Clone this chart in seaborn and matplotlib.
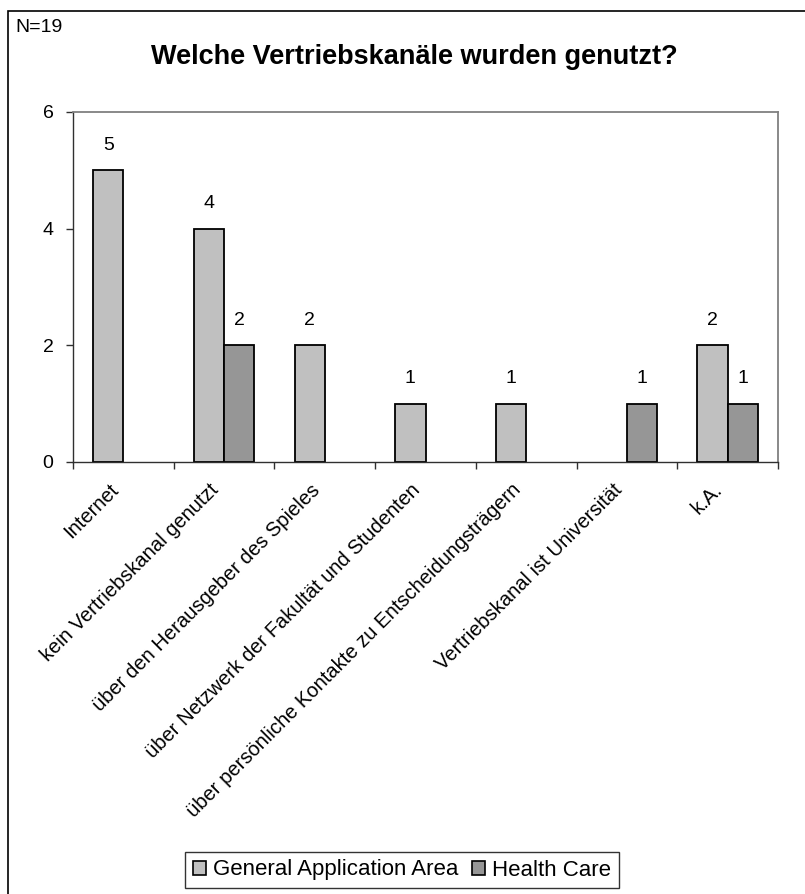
import matplotlib
matplotlib.use("Agg")
import matplotlib.pyplot as plt
from matplotlib.patches import Rectangle, Patch
from matplotlib.ticker import FixedLocator
from matplotlib.transforms import ScaledTranslation
import pandas as pd
import seaborn as sns

# Data
kanaele = [
    "Internet",
    "kein Vertriebskanal genutzt",
    "über den Herausgeber des Spieles",
    "über Netzwerk der Fakultät und Studenten",
    "über persönliche Kontakte zu Entscheidungsträgern",
    "Vertriebskanal ist Universität",
    "k.A.",
]
general_application_area = [5, 4, 2, 1, 1, 0, 2]
health_care = [0, 2, 0, 0, 0, 1, 1]
bereiche = ["General Application Area", "Health Care"]
farben = ["#C0C0C0", "#969696"]
y_ticks = [0, 2, 4, 6]

df = pd.DataFrame({
    "Kanal": kanaele * 2,
    "Bereich": [bereiche[0]] * len(kanaele) + [bereiche[1]] * len(kanaele),
    "Anzahl": general_application_area + health_care,
})

sns.set_theme(style="white")
plt.rcParams["font.family"] = ["Liberation Sans", "DejaVu Sans"]
plt.rcParams["text.color"] = "black"
plt.rcParams["xtick.color"] = "black"
plt.rcParams["ytick.color"] = "black"

W, H = 805, 894
fig = plt.figure(figsize=(W / 100, H / 100), dpi=100)
fig.patch.set_facecolor("white")

# Plot area in pixel coordinates
left, right, top, bottom = 73, 778, 112, 462
ax = fig.add_axes([left / W, 1 - bottom / H, (right - left) / W, (bottom - top) / H])

sns.barplot(
    data=df, x="Kanal", y="Anzahl", hue="Bereich",
    order=kanaele, hue_order=bereiche,
    palette=farben,
    width=0.6, gap=0, edgecolor="black", linewidth=1.3,
    saturation=1, ax=ax, legend=False,
)

# Hide empty bars
for p in ax.patches:
    if p.get_height() == 0:
        p.set_visible(False)

# Value labels above bars
for cont in ax.containers:
    labels = [f"{v:g}" if v > 0 else "" for v in cont.datavalues]
    ax.bar_label(cont, labels=labels, padding=12, fontsize=14, color="black")

ax.set_ylim(0, 6)
ax.set_yticks(y_ticks)
ax.set_xlim(-0.5, len(kanaele) - 0.5)
ax.set_xlabel("")
ax.set_ylabel("")

# Axes frame
for side in ["top", "right"]:
    ax.spines[side].set_color("#808080")
    ax.spines[side].set_linewidth(1.3)
for side in ["left", "bottom"]:
    ax.spines[side].set_color("#303030")
    ax.spines[side].set_linewidth(1.0)

ax.tick_params(axis="y", which="major", direction="out", length=5, width=1,
               color="#303030", pad=9, labelsize=14, left=True, labelcolor="black")
ax.tick_params(axis="x", which="major", length=0, pad=18, labelsize=14.5,
               labelcolor="black")
ax.xaxis.set_minor_locator(FixedLocator([i - 0.5 for i in range(len(kanaele) + 1)]))
ax.tick_params(axis="x", which="minor", direction="out", length=5, width=1,
               color="#303030", bottom=True)

shift = ScaledTranslation(-8 / 100, 0, fig.dpi_scale_trans)
for lbl in ax.get_xticklabels():
    lbl.set_rotation(45)
    lbl.set_ha("right")
    lbl.set_va("center")
    lbl.set_rotation_mode("anchor")
    lbl.set_transform(lbl.get_transform() + shift)

# Legend below the chart
handles = [Patch(facecolor=c, edgecolor="black", linewidth=1.2) for c in farben]
leg = fig.legend(
    handles, bereiche, loc="center", ncol=2,
    bbox_to_anchor=(402 / W, 1 - 870 / H), bbox_transform=fig.transFigure,
    fontsize=16, frameon=True, fancybox=False, shadow=False,
    handlelength=0.6, handleheight=0.6, handletextpad=0.32,
    columnspacing=0.6, borderpad=0.35, borderaxespad=0,
)
leg.get_frame().set_edgecolor("black")
leg.get_frame().set_linewidth(1.0)

# Title and sample size
fig.text(414 / W, 1 - 57 / H, "Welche Vertriebskanäle wurden genutzt?",
         ha="center", va="center", fontsize=19.5, fontweight="bold", color="black")
fig.text(15 / W, 1 - 19 / H, "N=19", ha="left", va="top", fontsize=14, color="black")

# Chart border
fig.patches.append(Rectangle((8 / W, -0.05), 1.0, 1 - 11 / H + 0.05,
                             transform=fig.transFigure, fill=False,
                             edgecolor="black", linewidth=1.2))

fig.savefig("out.png", dpi=100, facecolor="white")
